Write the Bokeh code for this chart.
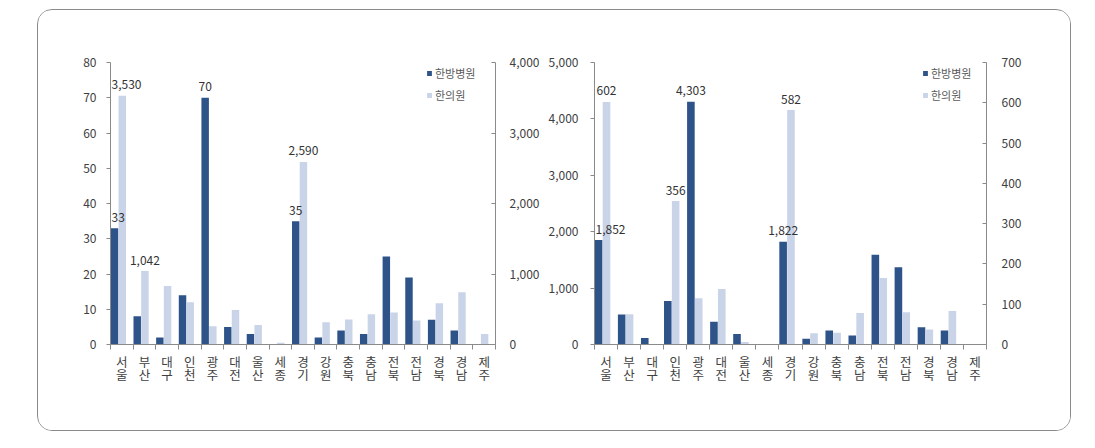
from bokeh.plotting import figure
from bokeh.models import (Range1d, LinearAxis, FixedTicker, NumeralTickFormatter,
                          ColumnDataSource, Legend, LegendItem, Label)
from bokeh.layouts import row
from bokeh.transform import dodge
from bokeh.embed import file_html
from bokeh.resources import INLINE

regions = ["서울", "부산", "대구", "인천", "광주", "대전", "울산", "세종", "경기",
           "강원", "충북", "충남", "전북", "전남", "경북", "경남", "제주"]
series = ["한방병원", "한의원"]

# left panel
left_hosp = [33, 8, 2, 14, 70, 5, 3, 0, 35, 2, 4, 3, 25, 19, 7, 4, 0]
left_clinic = [3530, 1042, 830, 600, 260, 490, 275, 25, 2590, 315, 355, 430, 455, 340, 585, 740, 150]
left_hosp_ticks = [0, 10, 20, 30, 40, 50, 60, 70, 80]
left_clinic_ticks = [0, 1000, 2000, 3000, 4000]
left_hosp_labelled = [0, 4, 8]
left_clinic_labelled = [0, 1, 8]

# right panel
right_hosp = [1852, 532, 115, 770, 4303, 405, 185, 0, 1822, 100, 248, 160, 1590, 1371, 307, 248, 0]
right_clinic = [602, 75, 0, 356, 115, 138, 6, 0, 582, 28, 29, 78, 165, 80, 37, 83, 0]
right_hosp_ticks = [0, 1000, 2000, 3000, 4000, 5000]
right_clinic_ticks = [0, 100, 200, 300, 400, 500, 600, 700]
right_hosp_labelled = [0, 4, 8]
right_clinic_labelled = [0, 3, 8]

DARK = "#2E5389"
LIGHT = "#CAD4E8"
AXIS = "#8A8A8A"
TXT = "#404040"
FONT = "Noto Sans CJK KR"
OFF_H, OFF_C = -0.32, 0.02


def panel(hosp, clinic, hosp_ticks, clinic_ticks, hosp_lab, clinic_lab,
          bl, fw, br, leg_x, sl, sr):
    n = len(regions)
    xi = list(range(n))
    px_per_cat = fw / n
    p = figure(frame_width=fw, frame_height=282, min_border_left=bl, min_border_right=br,
               min_border_top=52, min_border_bottom=86,
               x_range=Range1d(-0.5, n - 0.5), y_range=Range1d(0, hosp_ticks[-1]),
               output_backend="svg", toolbar_location=None)
    p.extra_y_ranges = {"clinic": Range1d(0, clinic_ticks[-1])}
    p.outline_line_color = None
    p.grid.visible = False
    p.background_fill_color = "white"
    p.border_fill_color = "white"

    src = ColumnDataSource(dict(xi=xi, hosp=hosp, clinic=clinic))
    r1 = p.vbar(x=dodge("xi", OFF_H, range=p.x_range), top="hosp", width=0.33, source=src,
                fill_color=DARK, line_color=None)
    r2 = p.vbar(x=dodge("xi", OFF_C, range=p.x_range), top="clinic", width=0.33, source=src,
                fill_color=LIGHT, line_color=None, y_range_name="clinic")

    for idxs, vals, off, rn in ((hosp_lab, hosp, OFF_H, "default"),
                                (clinic_lab, clinic, OFF_C, "clinic")):
        for i in idxs:
            txt = f"{vals[i]:,}"
            # keep text inside the frame (annotations are clipped to it)
            dist = (xi[i] + off + 0.5) * px_per_cat
            if len(txt) * 3.4 > dist:
                kw = dict(text_align="left", x_offset=-dist + 1)
            else:
                kw = dict(text_align="center")
            p.add_layout(Label(x=xi[i] + off, y=vals[i], text=txt,
                               text_font=FONT, text_font_size="12px", text_color="#333333",
                               text_baseline="alphabetic", y_offset=11,
                               y_range_name=rn, **kw))

    # x axis
    xa = p.xaxis[0]
    xa.ticker = FixedTicker(ticks=xi, minor_ticks=[i - 0.5 for i in range(n + 1)])
    xa.major_label_overrides = {i: "\n".join(list(r)) for i, r in enumerate(regions)}
    xa.major_tick_out = 0
    xa.major_tick_in = 0
    xa.minor_tick_out = 5
    xa.minor_tick_in = 0
    xa.minor_tick_line_color = AXIS
    xa.axis_line_color = AXIS
    xa.major_label_standoff = 2
    xa.major_label_text_font = FONT
    xa.major_label_text_font_size = "12.5px"
    xa.major_label_text_color = TXT
    xa.major_label_text_line_height = 0.72

    ya = p.yaxis[0]
    ya.ticker = FixedTicker(ticks=hosp_ticks)
    ya.formatter = NumeralTickFormatter(format="0,0")
    ya.minor_tick_line_color = None
    ya.major_tick_out = 4
    ya.major_tick_in = 0
    ya.major_tick_line_color = AXIS
    ya.axis_line_color = AXIS
    ya.major_label_standoff = sl
    ya.major_label_text_font = FONT
    ya.major_label_text_font_size = "12px"
    ya.major_label_text_color = TXT

    ra = LinearAxis(y_range_name="clinic", ticker=FixedTicker(ticks=clinic_ticks),
                    formatter=NumeralTickFormatter(format="0,0"))
    ra.minor_tick_line_color = None
    ra.major_tick_out = 0
    ra.major_tick_in = 4
    ra.major_tick_line_color = AXIS
    ra.axis_line_color = AXIS
    ra.major_label_standoff = sr
    ra.major_label_text_font = FONT
    ra.major_label_text_font_size = "12px"
    ra.major_label_text_color = TXT
    p.add_layout(ra, "right")

    leg = Legend(items=[LegendItem(label=series[0], renderers=[r1]),
                        LegendItem(label=series[1], renderers=[r2])],
                 location=(leg_x, 241), glyph_width=6, glyph_height=6, label_height=16,
                 spacing=6, padding=0, margin=0, label_standoff=3,
                 border_line_color=None, background_fill_alpha=0,
                 label_text_font=FONT, label_text_font_size="11px",
                 label_text_color="#595959")
    p.add_layout(leg)
    return p


p1 = panel(left_hosp, left_clinic, left_hosp_ticks, left_clinic_ticks,
           left_hosp_labelled, left_clinic_labelled, 72, 385, 50, 316, 10, 14)
p2 = panel(right_hosp, right_clinic, right_hosp_ticks, right_clinic_ticks,
           right_hosp_labelled, right_clinic_labelled, 47, 392, 84, 328, 12, 15)

layout = row(p1, p2, margin=(9, 0, 0, 37),
             styles={"border": "1px solid #8a8a8a", "border-radius": "15px",
                     "background": "white", "overflow": "hidden"})

open("out.html", "w").write(file_html(layout, INLINE))
